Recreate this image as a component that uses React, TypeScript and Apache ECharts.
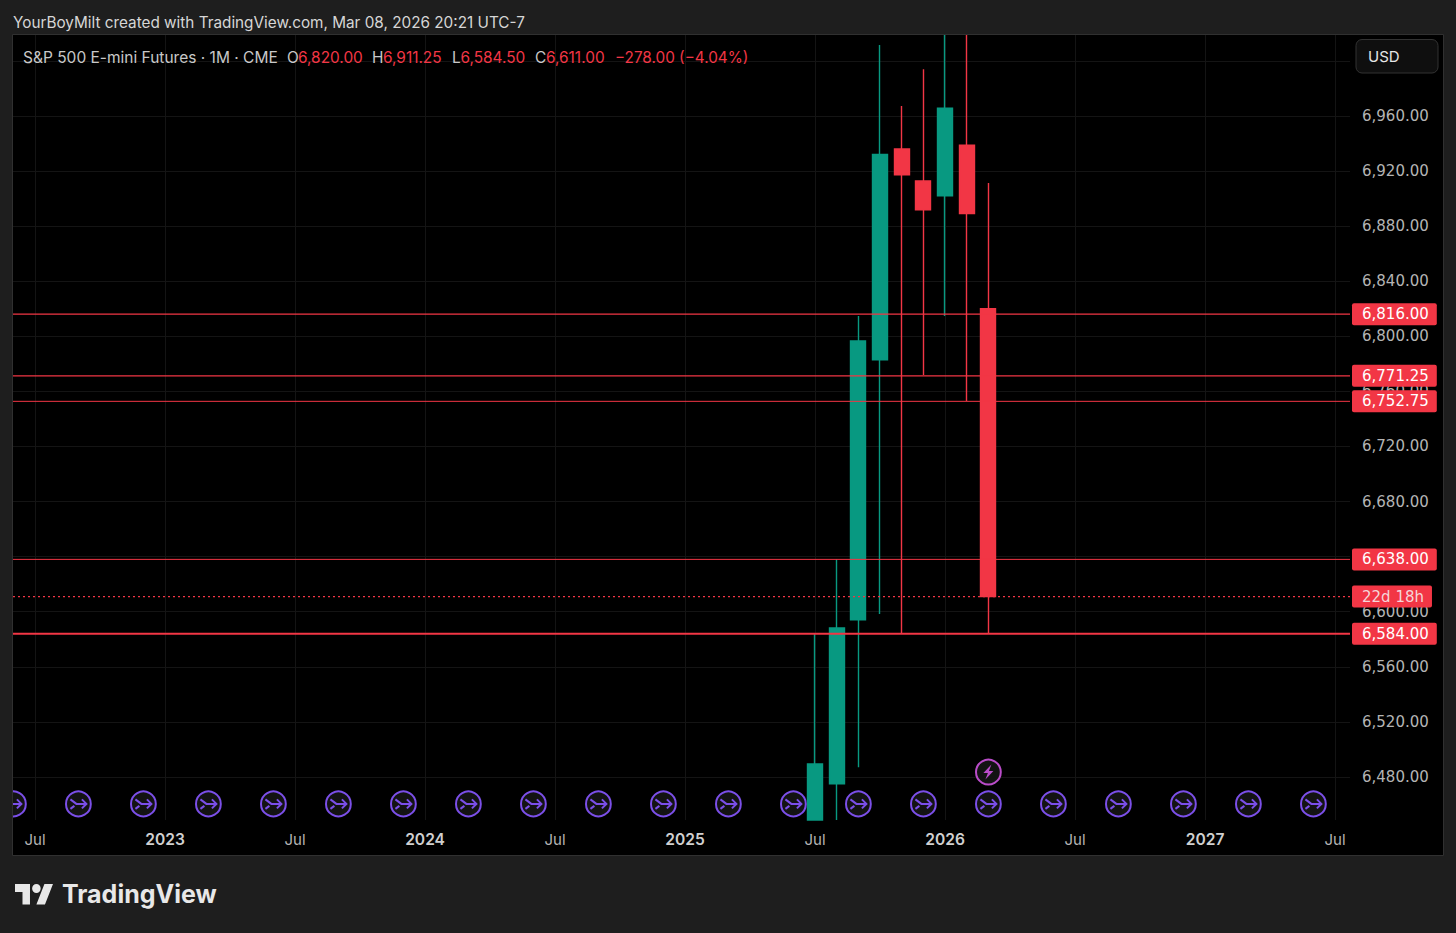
import React, { useEffect, useRef } from "react";
import * as echarts from "echarts";

const FONT = "Inter, 'Noto Sans', sans-serif";
const PRICE_FONT = "'DejaVu Sans', Inter, sans-serif";
const UP = "#089981";
const DOWN = "#F23645";
const GRID_LINE = "#141414";

const heading = "YourBoyMilt created with TradingView.com, Mar 08, 2026 20:21 UTC-7";
const symbolName = "S&P 500 E-mini Futures · 1M · CME";
const ohlcKeys = ["O", "H", "L", "C"];
const ohlcValues = ["6,820.00", "6,911.25", "6,584.50", "6,611.00"];
const changeText = "−278.00 (−4.04%)";
const currency = "USD";

const categories = [
  "2022-06", "2022-07", "2022-08", "2022-09", "2022-10", "2022-11", "2022-12",
  "2023-01", "2023-02", "2023-03", "2023-04", "2023-05", "2023-06", "2023-07", "2023-08", "2023-09", "2023-10", "2023-11", "2023-12",
  "2024-01", "2024-02", "2024-03", "2024-04", "2024-05", "2024-06", "2024-07", "2024-08", "2024-09", "2024-10", "2024-11", "2024-12",
  "2025-01", "2025-02", "2025-03", "2025-04", "2025-05", "2025-06", "2025-07", "2025-08", "2025-09", "2025-10", "2025-11", "2025-12",
  "2026-01", "2026-02", "2026-03", "2026-04", "2026-05", "2026-06", "2026-07", "2026-08", "2026-09", "2026-10", "2026-11", "2026-12",
  "2027-01", "2027-02", "2027-03", "2027-04", "2027-05", "2027-06", "2027-07", "2027-08", "2027-09", "2027-10", "2027-11", "2027-12",
];

// Values beyond the visible price range are held at the pane's edge (the picture cuts them off there).
const candleMonths = ["2025-07", "2025-08", "2025-09", "2025-10", "2025-11", "2025-12", "2026-01", "2026-02", "2026-03"];
const opens = [6448.7, 6474.9, 6594, 6782.8, 6936, 6912.7, 6902, 6938.6, 6820];
const closes = [6489.4, 6588.1, 6796.5, 6932, 6917.1, 6891.7, 6965.5, 6889, 6611];
const lows = [6448.7, 6448.7, 6487, 6598.3, 6583.8, 6771.9, 6814.7, 6753, 6584.5];
const highs = [6583.8, 6638, 6814.7, 7011.5, 6967.2, 6993.8, 7018.7, 7018.7, 6911.25];

const priceLevels = [6816, 6771.25, 6752.75, 6638, 6584];
const priceLevelLabels = ["6,816.00", "6,771.25", "6,752.75", "6,638.00", "6,584.00"];
const priceLevelWidths = [1.2, 1.4, 1, 1, 1.8];
const closeLevel = 6611;
const countdown = "22d 18h";

const dividendMonths = [
  "2022-06", "2022-09", "2022-12", "2023-03", "2023-06", "2023-09", "2023-12",
  "2024-03", "2024-06", "2024-09", "2024-12", "2025-03", "2025-06", "2025-09", "2025-12",
  "2026-03", "2026-06", "2026-09", "2026-12", "2027-03", "2027-06",
];
const dividendLevel = 6460.4;
const earningsMonths = ["2026-03"];
const earningsLevel = 6483.5;

const monthNames: Record<string, string> = { "07": "Jul" };

const isTick = (i: number) => {
  const m = categories[i].slice(5);
  return m === "01" || m === "07";
};

const dividendItem = (params: any, api: any) => {
  const [cx, cy] = api.coord([api.value(0), api.value(1)]);
  const stroke = "#7B4FE8";
  const lw = 2;
  return {
    type: "group",
    children: [
      { type: "circle", shape: { cx, cy, r: 12.4 }, style: { fill: "#131313", stroke, lineWidth: 2 } },
      { type: "polyline", shape: { points: [[cx - 8, cy - 4.5], [cx - 2, cy], [cx + 8, cy]] }, style: { fill: "none", stroke, lineWidth: lw } },
      { type: "polyline", shape: { points: [[cx + 3.5, cy - 4.5], [cx + 8, cy], [cx + 3.5, cy + 4.5]] }, style: { fill: "none", stroke, lineWidth: lw } },
      { type: "line", shape: { x1: cx - 8, y1: cy + 5, x2: cx - 4, y2: cy + 2 }, style: { stroke, lineWidth: lw } },
    ],
  };
};

const earningsItem = (params: any, api: any) => {
  const [cx, cy] = api.coord([api.value(0), api.value(1)]);
  const stroke = "#BA4CC9";
  return {
    type: "group",
    children: [
      { type: "circle", shape: { cx, cy, r: 12.4 }, style: { fill: "#131313", stroke, lineWidth: 2 } },
      {
        type: "polygon",
        shape: {
          points: [[cx + 3, cy - 7.5], [cx - 5, cy + 1], [cx - 0.5, cy + 1], [cx - 3, cy + 7.5], [cx + 5, cy - 1], [cx + 0.5, cy - 1]],
        },
        style: { fill: stroke },
      },
    ],
  };
};

const levelSeries = (value: number, text: string, width: number, dotted: boolean, textColor: string, paddingRight: number) => ({
  type: "line",
  xAxisIndex: 1,
  yAxisIndex: 1,
  data: [[0, value], [1, value]],
  showSymbol: false,
  silent: true,
  z: 5,
  lineStyle: { color: DOWN, width, type: dotted ? [2, 3] : "solid" },
  endLabel: {
    show: true,
    formatter: text,
    distance: 2,
    color: textColor,
    fontFamily: PRICE_FONT,
    fontSize: 15,
    backgroundColor: DOWN,
    borderRadius: [2, 2, 2, 2],
    padding: [3, paddingRight, 3, 10],
    lineHeight: 16,
  },
});

export default function App() {
  const ref = useRef<HTMLDivElement>(null);

  useEffect(() => {
    echarts.graphic.registerShape(
      "tvlogo",
      echarts.graphic.extendPath("M14 22H7V11H0V4h14v18zM28 22h-8l7.5-18h8L28 22zM24 8a4 4 0 1 1-8 0a4 4 0 1 1 8 0z", {}) as any
    );
    const chart = echarts.init(ref.current!, undefined, { renderer: "svg" });

    const candleData = categories.map((c) => {
      const i = candleMonths.indexOf(c);
      return i < 0 ? ["-", "-", "-", "-"] : [opens[i], closes[i], lows[i], highs[i]];
    });

    const ohlcX = [287, 372, 452, 535];
    const ohlcValueX = [298, 383, 460.5, 546];
    const ohlcTexts: any[] = [];
    ohlcKeys.forEach((k, i) => {
      ohlcTexts.push({
        type: "text", x: ohlcX[i], y: 57.5, z: 10,
        style: { text: k, fill: "#c8c8c8", font: `15.4px ${FONT}`, verticalAlign: "middle" },
      });
      ohlcTexts.push({
        type: "text", x: ohlcValueX[i], y: 57.5, z: 10,
        style: { text: ohlcValues[i], fill: DOWN, font: `15.4px ${FONT}`, verticalAlign: "middle" },
      });
    });

    chart.setOption({
      animation: false,
      backgroundColor: "#1E1E1E",
      title: {
        text: heading,
        left: 13,
        top: 15,
        padding: 0,
        textStyle: { color: "#D6D6D6", fontSize: 15.3, fontWeight: "normal", fontFamily: FONT },
      },
      graphic: [
        { type: "rect", z: -10, shape: { x: 12.5, y: 34.5, width: 1431, height: 821 }, style: { fill: "#000", stroke: "#303030", lineWidth: 1 } },
        { type: "text", x: 23, y: 57.5, z: 10, style: { text: symbolName, fill: "#c8c8c8", font: `15.5px ${FONT}`, verticalAlign: "middle" } },
        ...ohlcTexts,
        { type: "text", x: 615, y: 57.5, z: 10, style: { text: changeText, fill: DOWN, font: `15.3px ${FONT}`, verticalAlign: "middle" } },
        { type: "rect", z: 10, shape: { x: 1356, y: 39.5, width: 82, height: 33.5, r: 6 }, style: { fill: "#0F0F0F", stroke: "#333", lineWidth: 1 } },
        { type: "text", x: 1368, y: 56, z: 11, style: { text: currency, fill: "#E6E6E6", font: `15px ${FONT}`, verticalAlign: "middle" } },
        { type: "tvlogo", x: 15, y: 879.3, scaleX: 1.07, scaleY: 1.15, z: 10, style: { fill: "#E8E8E8" } },
        { type: "text", x: 62, y: 894, z: 10, style: { text: "TradingView", fill: "#E8E8E8", font: `700 25px ${FONT}`, verticalAlign: "middle" } },
      ],
      grid: [
        { left: 13.4, width: 1430, top: 35, height: 785 },
        { left: 13, width: 1337, top: 60.8, height: 716.2 },
      ],
      xAxis: [
        {
          type: "category",
          gridIndex: 0,
          data: categories,
          boundaryGap: false,
          axisLine: { show: false },
          axisTick: { show: false },
          splitLine: { show: true, interval: (i: number) => isTick(i), lineStyle: { color: GRID_LINE, width: 1 } },
          axisLabel: {
            interval: (i: number) => isTick(i),
            margin: 11.5,
            color: "#B4B4B4",
            fontFamily: FONT,
            fontSize: 15,
            hideOverlap: false,
            formatter: (v: string) => {
              const m = v.slice(5);
              return monthNames[m] ? `{m|${monthNames[m]}}` : `{y|${v.slice(0, 4)}}`;
            },
            rich: {
              m: { color: "#B4B4B4", fontFamily: FONT, fontSize: 15 },
              y: { color: "#D0D0D0", fontFamily: FONT, fontSize: 15.6, fontWeight: 600 },
            },
          },
        },
        { type: "value", gridIndex: 1, min: 0, max: 1, show: false, splitLine: { show: false } },
      ],
      yAxis: [
        { type: "value", gridIndex: 0, min: 6448.7, max: 7018.7, show: false, splitLine: { show: false } },
        {
          type: "value",
          gridIndex: 1,
          position: "right",
          min: 6480,
          max: 7000,
          interval: 40,
          axisLine: { show: false },
          axisTick: { show: false },
          splitLine: { show: true, lineStyle: { color: GRID_LINE, width: 1 } },
          axisLabel: {
            margin: 12,
            color: "#B4B4B4",
            fontFamily: PRICE_FONT,
            fontSize: 15,
            formatter: (v: number) =>
              v >= 7000 ? "" : v.toLocaleString("en-US", { minimumFractionDigits: 2, maximumFractionDigits: 2 }),
          },
        },
      ],
      series: [
        {
          type: "candlestick",
          xAxisIndex: 0,
          yAxisIndex: 0,
          clip: true,
          data: candleData,
          barWidth: 15.5,
          z: 3,
          itemStyle: { color: UP, color0: DOWN, borderColor: UP, borderColor0: DOWN, borderWidth: 1.4 },
        },
        {
          type: "custom",
          xAxisIndex: 0,
          yAxisIndex: 0,
          clip: true,
          z: 4,
          renderItem: dividendItem,
          encode: { x: 0, y: 1 },
          data: dividendMonths.map((m) => [m, dividendLevel]),
        },
        {
          type: "custom",
          xAxisIndex: 0,
          yAxisIndex: 0,
          clip: true,
          z: 4,
          renderItem: earningsItem,
          encode: { x: 0, y: 1 },
          data: earningsMonths.map((m) => [m, earningsLevel]),
        },
        ...priceLevels.map((v, i) => levelSeries(v, priceLevelLabels[i], priceLevelWidths[i], false, "#fff", 8)),
        levelSeries(closeLevel, countdown, 1.3, true, "#F5D5D8", 8),
      ],
    });
    return () => chart.dispose();
  }, []);

  return <div ref={ref} style={{ position: "absolute", left: 0, top: 0, width: 1456, height: 933 }} />;
}
